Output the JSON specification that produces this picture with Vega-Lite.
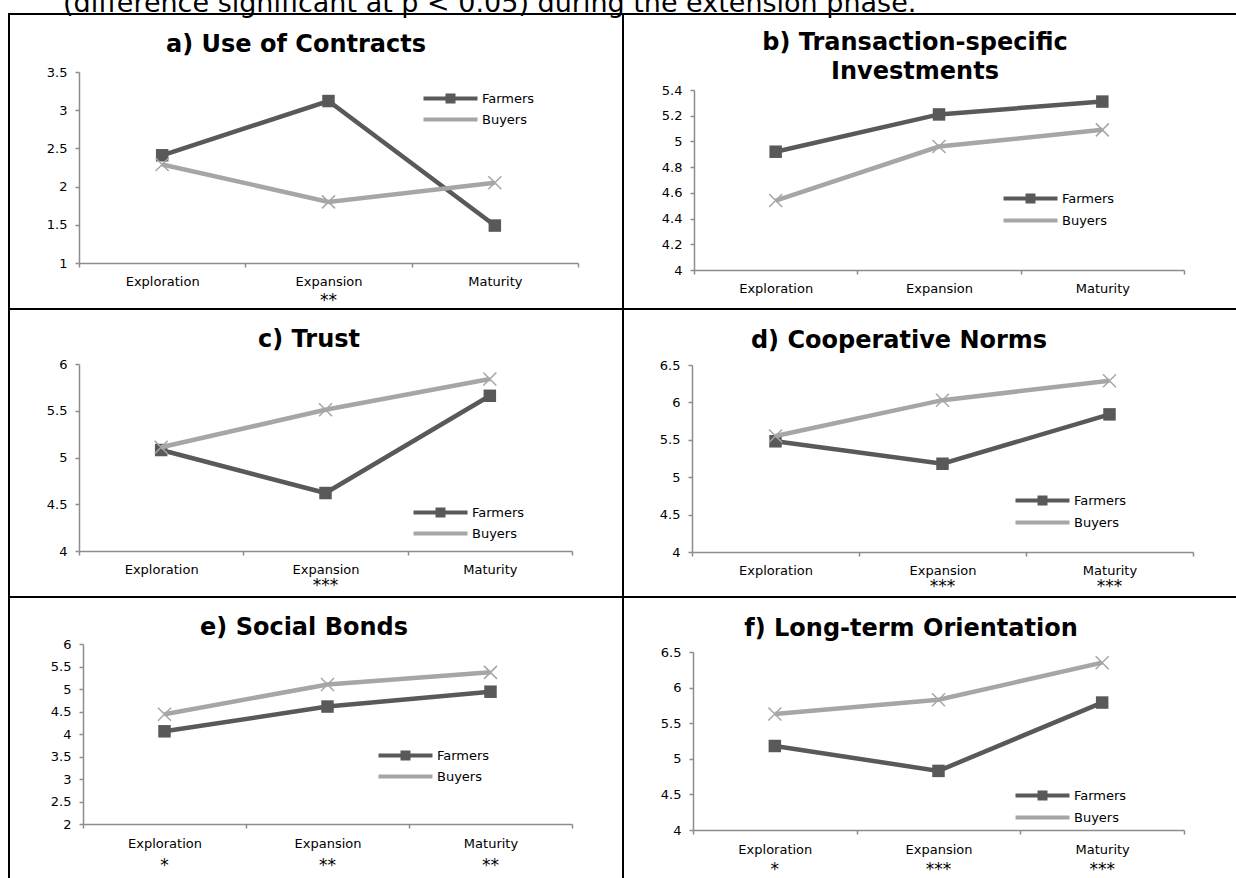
{
  "$schema": "https://vega.github.io/schema/vega-lite/v6.json",
  "background": "white",
  "padding": {"left": 8, "top": -10, "right": -2, "bottom": 24},
  "bounds": "flush",
  "spacing": 0,
  "columns": 2,
  "resolve": {"scale": {"fill": "independent", "shape": "independent"}, "legend": {"fill": "independent", "shape": "independent"}},
  "title": {"text": "(difference significant at p < 0.05) during the extension phase.", "anchor": "start", "frame": "group", "fontSize": 27, "fontWeight": "normal", "baseline": "alphabetic", "offset": -26, "dx": 54},
  "datasets": {
    "a": [
      {"phase": "Exploration", "sig": "", "series": "Farmers", "value": 2.41},
      {"phase": "Expansion", "sig": "**", "series": "Farmers", "value": 3.12},
      {"phase": "Maturity", "sig": "", "series": "Farmers", "value": 1.49},
      {"phase": "Exploration", "sig": "", "series": "Buyers", "value": 2.29},
      {"phase": "Expansion", "sig": "**", "series": "Buyers", "value": 1.80},
      {"phase": "Maturity", "sig": "", "series": "Buyers", "value": 2.05}
    ],
    "b": [
      {"phase": "Exploration", "sig": "", "series": "Farmers", "value": 4.92},
      {"phase": "Expansion", "sig": "", "series": "Farmers", "value": 5.21},
      {"phase": "Maturity", "sig": "", "series": "Farmers", "value": 5.31},
      {"phase": "Exploration", "sig": "", "series": "Buyers", "value": 4.54},
      {"phase": "Expansion", "sig": "", "series": "Buyers", "value": 4.96},
      {"phase": "Maturity", "sig": "", "series": "Buyers", "value": 5.09}
    ],
    "c": [
      {"phase": "Exploration", "sig": "", "series": "Farmers", "value": 5.08},
      {"phase": "Expansion", "sig": "***", "series": "Farmers", "value": 4.62},
      {"phase": "Maturity", "sig": "", "series": "Farmers", "value": 5.66},
      {"phase": "Exploration", "sig": "", "series": "Buyers", "value": 5.11},
      {"phase": "Expansion", "sig": "***", "series": "Buyers", "value": 5.51},
      {"phase": "Maturity", "sig": "", "series": "Buyers", "value": 5.84}
    ],
    "d": [
      {"phase": "Exploration", "sig": "", "series": "Farmers", "value": 5.48},
      {"phase": "Expansion", "sig": "***", "series": "Farmers", "value": 5.18},
      {"phase": "Maturity", "sig": "***", "series": "Farmers", "value": 5.84},
      {"phase": "Exploration", "sig": "", "series": "Buyers", "value": 5.55},
      {"phase": "Expansion", "sig": "***", "series": "Buyers", "value": 6.03},
      {"phase": "Maturity", "sig": "***", "series": "Buyers", "value": 6.29}
    ],
    "e": [
      {"phase": "Exploration", "sig": "*", "series": "Farmers", "value": 4.06},
      {"phase": "Expansion", "sig": "**", "series": "Farmers", "value": 4.61},
      {"phase": "Maturity", "sig": "**", "series": "Farmers", "value": 4.94},
      {"phase": "Exploration", "sig": "*", "series": "Buyers", "value": 4.44},
      {"phase": "Expansion", "sig": "**", "series": "Buyers", "value": 5.10},
      {"phase": "Maturity", "sig": "**", "series": "Buyers", "value": 5.37}
    ],
    "f": [
      {"phase": "Exploration", "sig": "*", "series": "Farmers", "value": 5.18},
      {"phase": "Expansion", "sig": "***", "series": "Farmers", "value": 4.83},
      {"phase": "Maturity", "sig": "***", "series": "Farmers", "value": 5.79},
      {"phase": "Exploration", "sig": "*", "series": "Buyers", "value": 5.63},
      {"phase": "Expansion", "sig": "***", "series": "Buyers", "value": 5.83},
      {"phase": "Maturity", "sig": "***", "series": "Buyers", "value": 6.35}
    ]
  },
  "concat": [
    {
      "width": 614, "height": 295,
      "title": {"text": "a) Use of Contracts", "anchor": "middle", "frame": "group", "dx": -20, "offset": -55, "baseline": "middle"},
      "data": {"name": "a"},
      "transform": [{"calculate": "datum.phase + '|' + datum.sig", "as": "key"}],
      "encoding": {
        "y": {"field": "value", "type": "quantitative", "scale": {"domain": [1, 3.5], "range": [249, 58], "nice": false, "zero": false}, "axis": {"values": [1, 1.5, 2, 2.5, 3, 3.5], "offset": -70, "format": "~g"}}
      },
      "layer": [
        {"transform": [{"filter": "datum.series == 'Farmers'"}], "mark": {"type": "line", "color": "#595959", "strokeWidth": 4.5},
         "encoding": {"x": {"field": "key", "type": "nominal", "sort": ["Exploration|", "Expansion|**", "Maturity|"], "scale": {"type": "band", "range": [70, 569], "paddingInner": 0, "paddingOuter": 0}, "axis": {"orient": "bottom", "offset": -46, "tickBand": "extent", "labelAngle": 0, "labelPadding": 8, "labelExpr": "split(datum.label, '|')[0]"}}}},
        {"transform": [{"filter": "datum.series == 'Farmers'"}], "mark": {"type": "point", "shape": "square", "filled": true, "color": "#595959", "size": 156, "opacity": 1},
         "encoding": {"x": {"field": "key", "type": "nominal", "sort": ["Exploration|", "Expansion|**", "Maturity|"], "axis": null}}},
        {"transform": [{"filter": "datum.series == 'Buyers'"}], "mark": {"type": "line", "color": "#a6a6a6", "strokeWidth": 4.5},
         "encoding": {"x": {"field": "key", "type": "nominal", "sort": ["Exploration|", "Expansion|**", "Maturity|"], "axis": null}}},
        {"transform": [{"filter": "datum.series == 'Buyers'"}], "mark": {"type": "point", "shape": "M-1,-1L1,1M-1,1L1,-1", "filled": false, "color": "#a6a6a6", "size": 169, "strokeWidth": 1.5, "opacity": 1},
         "encoding": {"x": {"field": "key", "type": "nominal", "sort": ["Exploration|", "Expansion|**", "Maturity|"], "axis": {"orient": "bottom", "offset": -46, "domain": false, "ticks": false, "tickSize": 0, "labelAngle": 0, "labelFontSize": 17, "labelPadding": 29, "labelExpr": "split(datum.label, '|')[1]"}}}},
        {"transform": [{"filter": "false"}], "mark": {"type": "point", "filled": true, "opacity": 1},
         "encoding": {
           "fill": {"field": "series", "type": "nominal", "scale": {"domain": ["Farmers", "Buyers"], "range": ["#595959", "#a6a6a6"]}, "legend": {"orient": "none", "legendX": 435, "legendY": 78, "title": null, "symbolSize": 144, "symbolStrokeWidth": 0, "labelOffset": 25, "rowPadding": 7, "padding": 0}},
           "shape": {"field": "series", "type": "nominal", "scale": {"domain": ["Farmers", "Buyers"], "range": ["M-4.5,-0.333H4.5V0.333H-4.5Z M-0.833,-0.833H0.833V0.833H-0.833Z", "M-4.5,-0.333H4.5V0.333H-4.5Z"]}, "legend": {"orient": "none", "legendX": 435, "legendY": 78, "title": null, "symbolSize": 144, "symbolStrokeWidth": 0, "labelOffset": 25, "rowPadding": 7, "padding": 0}}
         }}
      ],
      "resolve": {"axis": {"x": "independent"}}
    },
    {
      "width": 614, "height": 295,
      "title": {"text": ["b) Transaction-specific", "Investments"], "anchor": "middle", "frame": "group", "dx": -15, "offset": -82, "baseline": "middle", "lineHeight": 29},
      "data": {"name": "b"},
      "transform": [{"calculate": "datum.phase + '|' + datum.sig", "as": "key"}],
      "encoding": {
        "y": {"field": "value", "type": "quantitative", "scale": {"domain": [4, 5.4], "range": [256, 76], "nice": false, "zero": false}, "axis": {"values": [4, 4.2, 4.4, 4.6, 4.8, 5, 5.2, 5.4], "offset": -71, "format": "~g"}}
      },
      "layer": [
        {"transform": [{"filter": "datum.series == 'Farmers'"}], "mark": {"type": "line", "color": "#595959", "strokeWidth": 4.5},
         "encoding": {"x": {"field": "key", "type": "nominal", "sort": ["Exploration|", "Expansion|", "Maturity|"], "scale": {"type": "band", "range": [71, 561], "paddingInner": 0, "paddingOuter": 0}, "axis": {"orient": "bottom", "offset": -39, "tickBand": "extent", "labelAngle": 0, "labelPadding": 8, "labelExpr": "split(datum.label, '|')[0]"}}}},
        {"transform": [{"filter": "datum.series == 'Farmers'"}], "mark": {"type": "point", "shape": "square", "filled": true, "color": "#595959", "size": 156, "opacity": 1},
         "encoding": {"x": {"field": "key", "type": "nominal", "sort": ["Exploration|", "Expansion|", "Maturity|"], "axis": null}}},
        {"transform": [{"filter": "datum.series == 'Buyers'"}], "mark": {"type": "line", "color": "#a6a6a6", "strokeWidth": 4.5},
         "encoding": {"x": {"field": "key", "type": "nominal", "sort": ["Exploration|", "Expansion|", "Maturity|"], "axis": null}}},
        {"transform": [{"filter": "datum.series == 'Buyers'"}], "mark": {"type": "point", "shape": "M-1,-1L1,1M-1,1L1,-1", "filled": false, "color": "#a6a6a6", "size": 169, "strokeWidth": 1.5, "opacity": 1},
         "encoding": {"x": {"field": "key", "type": "nominal", "sort": ["Exploration|", "Expansion|", "Maturity|"], "axis": null}}},
        {"transform": [{"filter": "false"}], "mark": {"type": "point", "filled": true, "opacity": 1},
         "encoding": {
           "fill": {"field": "series", "type": "nominal", "scale": {"domain": ["Farmers", "Buyers"], "range": ["#595959", "#a6a6a6"]}, "legend": {"orient": "none", "legendX": 401, "legendY": 178, "title": null, "symbolSize": 144, "symbolStrokeWidth": 0, "labelOffset": 25, "rowPadding": 8, "padding": 0}},
           "shape": {"field": "series", "type": "nominal", "scale": {"domain": ["Farmers", "Buyers"], "range": ["M-4.5,-0.333H4.5V0.333H-4.5Z M-0.833,-0.833H0.833V0.833H-0.833Z", "M-4.5,-0.333H4.5V0.333H-4.5Z"]}, "legend": {"orient": "none", "legendX": 401, "legendY": 178, "title": null, "symbolSize": 144, "symbolStrokeWidth": 0, "labelOffset": 25, "rowPadding": 8, "padding": 0}}
         }}
      ],
      "resolve": {"axis": {"x": "independent"}}
    },
    {
      "width": 614, "height": 288,
      "title": {"text": "c) Trust", "anchor": "middle", "frame": "group", "dx": -7, "offset": -55, "baseline": "middle"},
      "data": {"name": "c"},
      "transform": [{"calculate": "datum.phase + '|' + datum.sig", "as": "key"}],
      "encoding": {
        "y": {"field": "value", "type": "quantitative", "scale": {"domain": [4, 6], "range": [242, 55], "nice": false, "zero": false}, "axis": {"values": [4, 4.5, 5, 5.5, 6], "offset": -70, "format": "~g"}}
      },
      "layer": [
        {"transform": [{"filter": "datum.series == 'Farmers'"}], "mark": {"type": "line", "color": "#595959", "strokeWidth": 4.5},
         "encoding": {"x": {"field": "key", "type": "nominal", "sort": ["Exploration|", "Expansion|***", "Maturity|"], "scale": {"type": "band", "range": [70, 563], "paddingInner": 0, "paddingOuter": 0}, "axis": {"orient": "bottom", "offset": -46, "tickBand": "extent", "labelAngle": 0, "labelPadding": 8, "labelExpr": "split(datum.label, '|')[0]"}}}},
        {"transform": [{"filter": "datum.series == 'Farmers'"}], "mark": {"type": "point", "shape": "square", "filled": true, "color": "#595959", "size": 156, "opacity": 1},
         "encoding": {"x": {"field": "key", "type": "nominal", "sort": ["Exploration|", "Expansion|***", "Maturity|"], "axis": null}}},
        {"transform": [{"filter": "datum.series == 'Buyers'"}], "mark": {"type": "line", "color": "#a6a6a6", "strokeWidth": 4.5},
         "encoding": {"x": {"field": "key", "type": "nominal", "sort": ["Exploration|", "Expansion|***", "Maturity|"], "axis": null}}},
        {"transform": [{"filter": "datum.series == 'Buyers'"}], "mark": {"type": "point", "shape": "M-1,-1L1,1M-1,1L1,-1", "filled": false, "color": "#a6a6a6", "size": 169, "strokeWidth": 1.5, "opacity": 1},
         "encoding": {"x": {"field": "key", "type": "nominal", "sort": ["Exploration|", "Expansion|***", "Maturity|"], "axis": {"orient": "bottom", "offset": -46, "domain": false, "ticks": false, "tickSize": 0, "labelAngle": 0, "labelFontSize": 17, "labelPadding": 26, "labelExpr": "split(datum.label, '|')[1]"}}}},
        {"transform": [{"filter": "false"}], "mark": {"type": "point", "filled": true, "opacity": 1},
         "encoding": {
           "fill": {"field": "series", "type": "nominal", "scale": {"domain": ["Farmers", "Buyers"], "range": ["#595959", "#a6a6a6"]}, "legend": {"orient": "none", "legendX": 425, "legendY": 197, "title": null, "symbolSize": 144, "symbolStrokeWidth": 0, "labelOffset": 25, "rowPadding": 7, "padding": 0}},
           "shape": {"field": "series", "type": "nominal", "scale": {"domain": ["Farmers", "Buyers"], "range": ["M-4.5,-0.333H4.5V0.333H-4.5Z M-0.833,-0.833H0.833V0.833H-0.833Z", "M-4.5,-0.333H4.5V0.333H-4.5Z"]}, "legend": {"orient": "none", "legendX": 425, "legendY": 197, "title": null, "symbolSize": 144, "symbolStrokeWidth": 0, "labelOffset": 25, "rowPadding": 7, "padding": 0}}
         }}
      ],
      "resolve": {"axis": {"x": "independent"}}
    },
    {
      "width": 614, "height": 288,
      "title": {"text": "d) Cooperative Norms", "anchor": "middle", "frame": "group", "dx": -31, "offset": -56, "baseline": "middle"},
      "data": {"name": "d"},
      "transform": [{"calculate": "datum.phase + '|' + datum.sig", "as": "key"}],
      "encoding": {
        "y": {"field": "value", "type": "quantitative", "scale": {"domain": [4, 6.5], "range": [243, 56], "nice": false, "zero": false}, "axis": {"values": [4, 4.5, 5, 5.5, 6, 6.5], "offset": -69, "format": "~g"}}
      },
      "layer": [
        {"transform": [{"filter": "datum.series == 'Farmers'"}], "mark": {"type": "line", "color": "#595959", "strokeWidth": 4.5},
         "encoding": {"x": {"field": "key", "type": "nominal", "sort": ["Exploration|", "Expansion|***", "Maturity|***"], "scale": {"type": "band", "range": [69, 570], "paddingInner": 0, "paddingOuter": 0}, "axis": {"orient": "bottom", "offset": -45, "tickBand": "extent", "labelAngle": 0, "labelPadding": 8, "labelExpr": "split(datum.label, '|')[0]"}}}},
        {"transform": [{"filter": "datum.series == 'Farmers'"}], "mark": {"type": "point", "shape": "square", "filled": true, "color": "#595959", "size": 156, "opacity": 1},
         "encoding": {"x": {"field": "key", "type": "nominal", "sort": ["Exploration|", "Expansion|***", "Maturity|***"], "axis": null}}},
        {"transform": [{"filter": "datum.series == 'Buyers'"}], "mark": {"type": "line", "color": "#a6a6a6", "strokeWidth": 4.5},
         "encoding": {"x": {"field": "key", "type": "nominal", "sort": ["Exploration|", "Expansion|***", "Maturity|***"], "axis": null}}},
        {"transform": [{"filter": "datum.series == 'Buyers'"}], "mark": {"type": "point", "shape": "M-1,-1L1,1M-1,1L1,-1", "filled": false, "color": "#a6a6a6", "size": 169, "strokeWidth": 1.5, "opacity": 1},
         "encoding": {"x": {"field": "key", "type": "nominal", "sort": ["Exploration|", "Expansion|***", "Maturity|***"], "axis": {"orient": "bottom", "offset": -45, "domain": false, "ticks": false, "tickSize": 0, "labelAngle": 0, "labelFontSize": 17, "labelPadding": 26, "labelExpr": "split(datum.label, '|')[1]"}}}},
        {"transform": [{"filter": "false"}], "mark": {"type": "point", "filled": true, "opacity": 1},
         "encoding": {
           "fill": {"field": "series", "type": "nominal", "scale": {"domain": ["Farmers", "Buyers"], "range": ["#595959", "#a6a6a6"]}, "legend": {"orient": "none", "legendX": 413, "legendY": 185, "title": null, "symbolSize": 144, "symbolStrokeWidth": 0, "labelOffset": 25, "rowPadding": 8, "padding": 0}},
           "shape": {"field": "series", "type": "nominal", "scale": {"domain": ["Farmers", "Buyers"], "range": ["M-4.5,-0.333H4.5V0.333H-4.5Z M-0.833,-0.833H0.833V0.833H-0.833Z", "M-4.5,-0.333H4.5V0.333H-4.5Z"]}, "legend": {"orient": "none", "legendX": 413, "legendY": 185, "title": null, "symbolSize": 144, "symbolStrokeWidth": 0, "labelOffset": 25, "rowPadding": 8, "padding": 0}}
         }}
      ],
      "resolve": {"axis": {"x": "independent"}}
    },
    {
      "width": 614, "height": 284,
      "title": {"text": "e) Social Bonds", "anchor": "middle", "frame": "group", "dx": -12, "offset": -55, "baseline": "middle"},
      "data": {"name": "e"},
      "transform": [{"calculate": "datum.phase + '|' + datum.sig", "as": "key"}],
      "encoding": {
        "y": {"field": "value", "type": "quantitative", "scale": {"domain": [2, 6], "range": [227, 47], "nice": false, "zero": false}, "axis": {"values": [2, 2.5, 3, 3.5, 4, 4.5, 5, 5.5, 6], "offset": -74, "format": "~g"}}
      },
      "layer": [
        {"transform": [{"filter": "datum.series == 'Farmers'"}], "mark": {"type": "line", "color": "#595959", "strokeWidth": 4.5},
         "encoding": {"x": {"field": "key", "type": "nominal", "sort": ["Exploration|*", "Expansion|**", "Maturity|**"], "scale": {"type": "band", "range": [74, 563], "paddingInner": 0, "paddingOuter": 0}, "axis": {"orient": "bottom", "offset": -57, "tickBand": "extent", "labelAngle": 0, "labelPadding": 9, "labelExpr": "split(datum.label, '|')[0]"}}}},
        {"transform": [{"filter": "datum.series == 'Farmers'"}], "mark": {"type": "point", "shape": "square", "filled": true, "color": "#595959", "size": 156, "opacity": 1},
         "encoding": {"x": {"field": "key", "type": "nominal", "sort": ["Exploration|*", "Expansion|**", "Maturity|**"], "axis": null}}},
        {"transform": [{"filter": "datum.series == 'Buyers'"}], "mark": {"type": "line", "color": "#a6a6a6", "strokeWidth": 4.5},
         "encoding": {"x": {"field": "key", "type": "nominal", "sort": ["Exploration|*", "Expansion|**", "Maturity|**"], "axis": null}}},
        {"transform": [{"filter": "datum.series == 'Buyers'"}], "mark": {"type": "point", "shape": "M-1,-1L1,1M-1,1L1,-1", "filled": false, "color": "#a6a6a6", "size": 169, "strokeWidth": 1.5, "opacity": 1},
         "encoding": {"x": {"field": "key", "type": "nominal", "sort": ["Exploration|*", "Expansion|**", "Maturity|**"], "axis": {"orient": "bottom", "offset": -57, "domain": false, "ticks": false, "tickSize": 0, "labelAngle": 0, "labelFontSize": 17, "labelPadding": 33, "labelExpr": "split(datum.label, '|')[1]"}}}},
        {"transform": [{"filter": "false"}], "mark": {"type": "point", "filled": true, "opacity": 1},
         "encoding": {
           "fill": {"field": "series", "type": "nominal", "scale": {"domain": ["Farmers", "Buyers"], "range": ["#595959", "#a6a6a6"]}, "legend": {"orient": "none", "legendX": 390, "legendY": 152, "title": null, "symbolSize": 144, "symbolStrokeWidth": 0, "labelOffset": 25, "rowPadding": 7, "padding": 0}},
           "shape": {"field": "series", "type": "nominal", "scale": {"domain": ["Farmers", "Buyers"], "range": ["M-4.5,-0.333H4.5V0.333H-4.5Z M-0.833,-0.833H0.833V0.833H-0.833Z", "M-4.5,-0.333H4.5V0.333H-4.5Z"]}, "legend": {"orient": "none", "legendX": 390, "legendY": 152, "title": null, "symbolSize": 144, "symbolStrokeWidth": 0, "labelOffset": 25, "rowPadding": 7, "padding": 0}}
         }}
      ],
      "resolve": {"axis": {"x": "independent"}}
    },
    {
      "width": 614, "height": 284,
      "title": {"text": "f) Long-term Orientation", "anchor": "middle", "frame": "group", "dx": -19, "offset": -56, "baseline": "middle"},
      "data": {"name": "f"},
      "transform": [{"calculate": "datum.phase + '|' + datum.sig", "as": "key"}],
      "encoding": {
        "y": {"field": "value", "type": "quantitative", "scale": {"domain": [4, 6.5], "range": [233, 55], "nice": false, "zero": false}, "axis": {"values": [4, 4.5, 5, 5.5, 6, 6.5], "offset": -70, "format": "~g"}}
      },
      "layer": [
        {"transform": [{"filter": "datum.series == 'Farmers'"}], "mark": {"type": "line", "color": "#595959", "strokeWidth": 4.5},
         "encoding": {"x": {"field": "key", "type": "nominal", "sort": ["Exploration|*", "Expansion|***", "Maturity|***"], "scale": {"type": "band", "range": [70, 561], "paddingInner": 0, "paddingOuter": 0}, "axis": {"orient": "bottom", "offset": -51, "tickBand": "extent", "labelAngle": 0, "labelPadding": 9, "labelExpr": "split(datum.label, '|')[0]"}}}},
        {"transform": [{"filter": "datum.series == 'Farmers'"}], "mark": {"type": "point", "shape": "square", "filled": true, "color": "#595959", "size": 156, "opacity": 1},
         "encoding": {"x": {"field": "key", "type": "nominal", "sort": ["Exploration|*", "Expansion|***", "Maturity|***"], "axis": null}}},
        {"transform": [{"filter": "datum.series == 'Buyers'"}], "mark": {"type": "line", "color": "#a6a6a6", "strokeWidth": 4.5},
         "encoding": {"x": {"field": "key", "type": "nominal", "sort": ["Exploration|*", "Expansion|***", "Maturity|***"], "axis": null}}},
        {"transform": [{"filter": "datum.series == 'Buyers'"}], "mark": {"type": "point", "shape": "M-1,-1L1,1M-1,1L1,-1", "filled": false, "color": "#a6a6a6", "size": 169, "strokeWidth": 1.5, "opacity": 1},
         "encoding": {"x": {"field": "key", "type": "nominal", "sort": ["Exploration|*", "Expansion|***", "Maturity|***"], "axis": {"orient": "bottom", "offset": -51, "domain": false, "ticks": false, "tickSize": 0, "labelAngle": 0, "labelFontSize": 17, "labelPadding": 31, "labelExpr": "split(datum.label, '|')[1]"}}}},
        {"transform": [{"filter": "false"}], "mark": {"type": "point", "filled": true, "opacity": 1},
         "encoding": {
           "fill": {"field": "series", "type": "nominal", "scale": {"domain": ["Farmers", "Buyers"], "range": ["#595959", "#a6a6a6"]}, "legend": {"orient": "none", "legendX": 413, "legendY": 192, "title": null, "symbolSize": 144, "symbolStrokeWidth": 0, "labelOffset": 25, "rowPadding": 8, "padding": 0}},
           "shape": {"field": "series", "type": "nominal", "scale": {"domain": ["Farmers", "Buyers"], "range": ["M-4.5,-0.333H4.5V0.333H-4.5Z M-0.833,-0.833H0.833V0.833H-0.833Z", "M-4.5,-0.333H4.5V0.333H-4.5Z"]}, "legend": {"orient": "none", "legendX": 413, "legendY": 192, "title": null, "symbolSize": 144, "symbolStrokeWidth": 0, "labelOffset": 25, "rowPadding": 8, "padding": 0}}
         }}
      ],
      "resolve": {"axis": {"x": "independent"}}
    }
  ],
  "config": {
    "view": {"stroke": "#000", "strokeWidth": 2},
    "axis": {"domainColor": "#8c8c8c", "domainWidth": 1.5, "tickColor": "#8c8c8c", "tickWidth": 1.5, "tickSize": 4, "labelFont": "DejaVu Sans", "labelFontSize": 13, "labelColor": "#000", "grid": false, "title": null},
    "axisY": {"labelPadding": 8},
    "title": {"font": "DejaVu Sans", "fontSize": 24, "fontWeight": "bold", "color": "#000"},
    "legend": {"labelFont": "DejaVu Sans", "labelFontSize": 13, "labelColor": "#000"}
  }
}
